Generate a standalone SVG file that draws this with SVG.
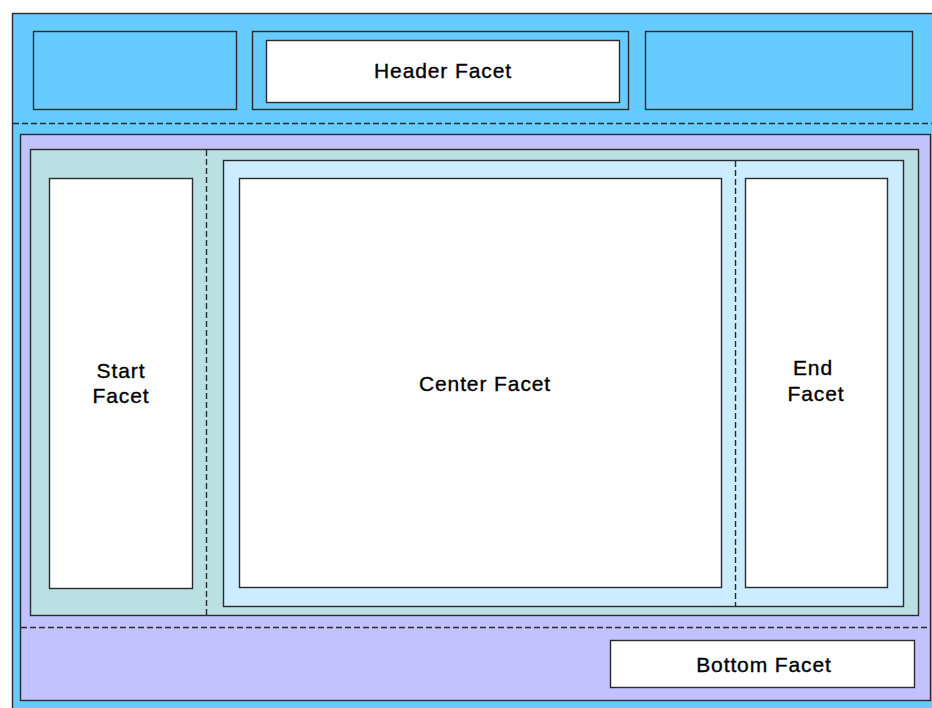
<svg xmlns="http://www.w3.org/2000/svg" width="932" height="708" viewBox="0 0 932 708">
<style>
rect{stroke:#2b2b2b;stroke-width:1.4}
.bg{fill:#fff;stroke:none}
.blue{fill:#66CCFF}
.purple{fill:#C2C2FF}
.teal{fill:#BBE0E3}
.lblue{fill:#CCECFF}
.white{fill:#FFFFFF}
.dash{stroke:#2b2b2b;stroke-width:1.4;stroke-dasharray:6,3;fill:none}
text{font-family:"Liberation Sans",Arial,sans-serif;font-size:21px;letter-spacing:0.9px;fill:#000;stroke:#000;stroke-width:0.35;text-anchor:middle}
</style>
<rect class="bg" width="932" height="708"/>
<g id="page">
<rect class="blue" x="12.5" y="13.5" width="930" height="700"/>
</g>
<g id="header-left"><rect class="blue" x="33.5" y="31.5" width="203" height="78"/></g>
<g id="header-facet">
<rect class="blue" x="252.5" y="31.5" width="376" height="78"/>
<rect class="white" x="266.5" y="40.5" width="353" height="62"/>
<text x="443" y="78">Header Facet</text>
</g>
<g id="header-right"><rect class="blue" x="645.5" y="31.5" width="267" height="78"/></g>
<g id="body">
<rect class="purple" x="20.5" y="134.5" width="910" height="566"/>
<rect class="teal" x="30.5" y="149.5" width="888" height="466"/>
<rect class="lblue" x="223.5" y="160.5" width="680" height="446"/>
</g>
<g id="start-facet">
<rect class="white" x="49.5" y="178.5" width="143" height="410"/>
<text x="121" y="378">Start</text>
<text x="121" y="403">Facet</text>
</g>
<g id="center-facet">
<rect class="white" x="239.5" y="178.5" width="482" height="409"/>
<text x="485" y="391">Center Facet</text>
</g>
<g id="end-facet">
<rect class="white" x="745.5" y="178.5" width="142" height="409"/>
<text x="813" y="375">End</text>
<text x="816" y="401">Facet</text>
</g>
<g id="bottom-facet">
<rect class="white" x="610.5" y="640.5" width="304" height="47"/>
<text x="764" y="672">Bottom Facet</text>
</g>
<g id="connectors">
<line class="dash" x1="13" y1="123.5" x2="932" y2="123.5"/>
<line class="dash" x1="206.5" y1="150" x2="206.5" y2="615"/>
<line class="dash" x1="735.5" y1="161" x2="735.5" y2="606"/>
<line class="dash" x1="21" y1="627.5" x2="930" y2="627.5"/>
</g>
</svg>
